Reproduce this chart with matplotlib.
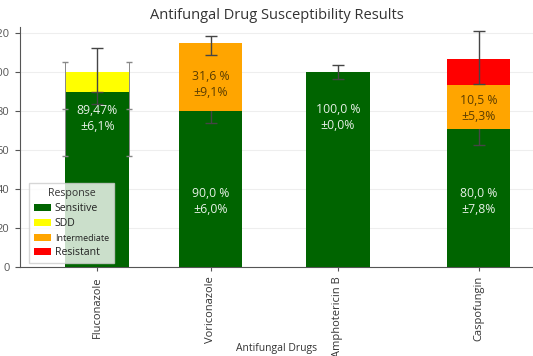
import matplotlib.pyplot as plt
import numpy as np

plt.rcParams['font.family'] = ['Open Sans', 'DejaVu Sans']

drugs = ["Fluconazole", "Voriconazole", "Amphotericin B", "Caspofungin"]
responses = ["Sensitive", "SDD", "Intermediate", "Resistant"]
colors = {"Sensitive": "#006400", "SDD": "#FFFF00", "Intermediate": "#FFA500", "Resistant": "#FF0000"}

# stacked heights per response (%)
sensitive = [89.47, 80.0, 100.0, 70.5]
sdd = [10.53, 0, 0, 0]
intermediate = [0, 35.0, 0, 22.8]
resistant = [0, 0, 0, 13.4]

# error bars: (drug index, centre, error)
err_sensitive = [(0, 89.47, 6.1), (1, 80.0, 6.0), (2, 100.0, 3.8), (3, 70.5, 7.8)]
err_sdd = [(0, 101.0, 11.3)]
err_intermediate = [(1, 113.5, 5.0)]
err_resistant = [(3, 107.5, 13.6)]

# text labels: (drug index, y, text, colour)
labels = [
    (0, 76.0, "89,47%\n±6,1%", "white"),
    (1, 33.5, "90,0 %\n±6,0%", "white"),
    (1, 93.3, "31,6 %\n±9,1%", "#4a3200"),
    (2, 76.8, "100,0 %\n±0,0%", "white"),
    (3, 33.5, "80,0 %\n±7,8%", "white"),
    (3, 81.4, "10,5 %\n±5,3%", "#4a3200"),
]

xpos = np.array([0, 1.0, 2.12, 3.36])
width = 0.56

fig = plt.figure(figsize=(5.33, 3.56), dpi=100)
ax = fig.add_axes([0.0375, 0.25, 1 - 0.0375, 0.674])

layers = [("Sensitive", sensitive, err_sensitive),
          ("SDD", sdd, err_sdd),
          ("Intermediate", intermediate, err_intermediate),
          ("Resistant", resistant, err_resistant)]

bottom = np.zeros(len(drugs))
for k, (name, vals, errs) in enumerate(layers):
    vals = np.array(vals)
    ax.bar(xpos, vals, width, bottom=bottom, color=colors[name], label=name, zorder=2 * k + 3)
    for i, c, e in errs:
        ax.errorbar(xpos[i], c, yerr=e, fmt='none', ecolor='#454545', elinewidth=1,
                    capsize=4, capthick=1, zorder=2 * k + 4)
    bottom += vals

# thin lines on the fluconazole bar edges
for dx in (-width / 2, width / 2):
    ax.errorbar(xpos[0] + dx, 81, yerr=24, fmt='_', color='#888888', ecolor='#888888',
                elinewidth=0.7, capsize=2, markersize=5, zorder=12)

for i, y, txt, col in labels:
    ax.text(xpos[i], y, txt, ha='center', va='center', fontsize=8.8, color=col,
            alpha=0.9, zorder=20, linespacing=1.3)

ax.set_xlim(-0.68, 3.84)
ax.set_ylim(0, 123)
ax.set_yticks(np.arange(0, 121, 20))
ax.tick_params(axis='y', labelsize=8, length=3.5, pad=4, colors='#555555')
ax.set_xticks(xpos)
ax.set_xticklabels(drugs, rotation=90, fontsize=8)
ax.tick_params(axis='x', length=3, colors='#555555')
for lbl in ax.get_xticklabels():
    lbl.set_color('#333333')
ax.grid(axis='y', color='#eeeeee', linewidth=0.8, zorder=0)
ax.set_axisbelow(True)
ax.spines['top'].set_visible(False)
ax.spines['right'].set_visible(False)
ax.spines['left'].set_color('#555555')
ax.spines['bottom'].set_color('#555555')

ax.set_title("Antifungal Drug Susceptibility Results", fontsize=10.5, color='#333333')
ax.set_xlabel("Antifungal Drugs", fontsize=7.5, color='#333333')
ax.xaxis.set_label_coords(0.5, -0.315)

leg = ax.legend(title="Response", loc='lower left', bbox_to_anchor=(0.012, 0.003),
                fontsize=7.6, title_fontsize=7.6, framealpha=0.8, handlelength=1.6,
                handleheight=0.6, borderpad=0.45, labelspacing=0.42, handletextpad=0.35,
                borderaxespad=0.3, fancybox=False)
leg.set_zorder(30)
leg.get_frame().set_edgecolor('#cccccc')
for t in leg.get_texts():
    t.set_color('#222222')
    if t.get_text() == "Intermediate":
        t.set_fontsize(6.5)
leg.get_title().set_color('#333333')

fig.savefig("out.png", dpi=100)
